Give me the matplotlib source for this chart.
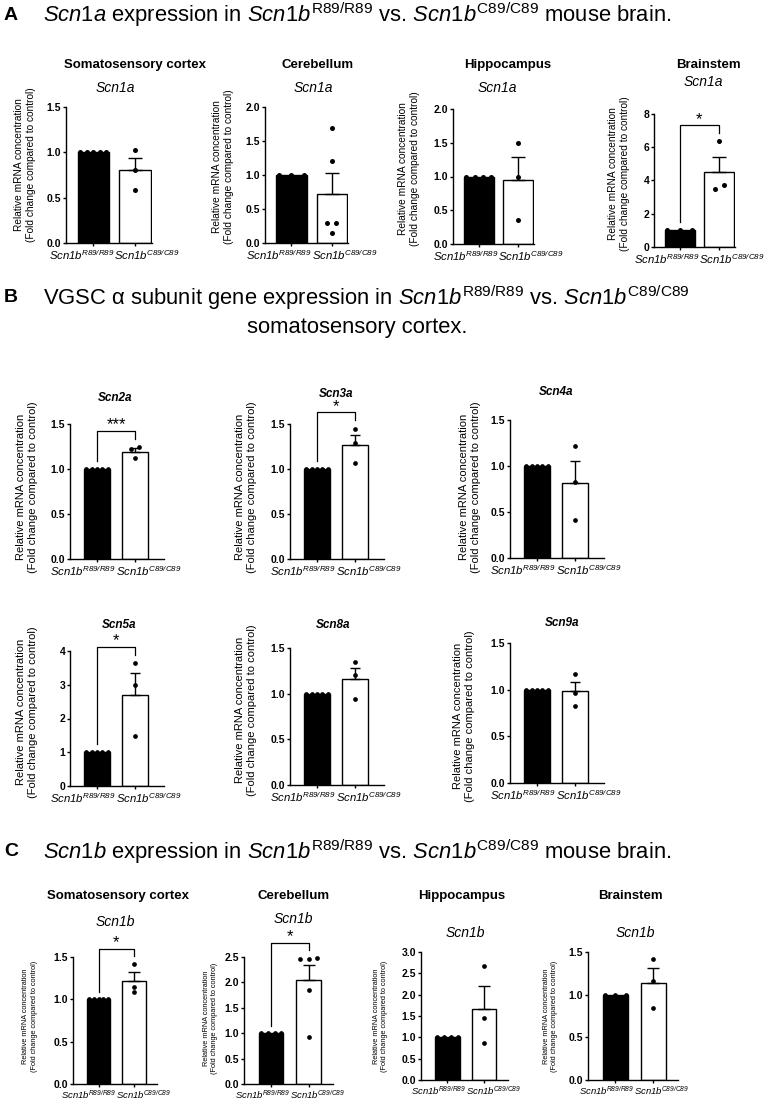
import matplotlib
matplotlib.use("Agg")
import matplotlib.pyplot as plt
import matplotlib.font_manager as fm
import numpy as np

plt.rcParams["font.family"] = ["Liberation Sans", "DejaVu Sans"]
plt.rcParams["mathtext.fontset"] = "custom"
plt.rcParams["mathtext.rm"] = "Liberation Sans"
plt.rcParams["mathtext.it"] = "Liberation Sans:italic"
plt.rcParams["mathtext.bf"] = "Liberation Sans:bold"

installed = {f.name for f in fm.fontManager.ttflist}
HAS_NARROW = "Liberation Sans Narrow" in installed
NARROW = "Liberation Sans Narrow" if HAS_NARROW else "Liberation Sans"

# ---- data ----
geno_base = "Scn1b"
geno_sup = ["R89/R89", "C89/C89"]
ylab_text = "Relative mRNA concentration\n(Fold change compared to control)"
regions = ["Somatosensory cortex", "Cerebellum", "Hippocampus", "Brainstem"]

# A: Scn1a in four regions
a_gene = "Scn1a"
a_ctrl = [[1, 1, 1, 1, 1], [1, 1, 1], [1, 1, 1, 1], [1, 1, 1]]
a_mut = [[1.03, 0.80, 0.59], [1.69, 1.20, 0.29, 0.29, 0.14], [1.50, 1.00, 0.36], [6.35, 3.70, 3.50]]
a_ymax = [1.5, 2.0, 2.0, 8]
a_ystep = [0.5, 0.5, 0.5, 2]
a_sig = ["", "", "", "*"]

# B: alpha subunits in somatosensory cortex
b_genes = ["Scn2a", "Scn3a", "Scn4a", "Scn5a", "Scn8a", "Scn9a"]
b_ctrl = [[1, 1, 1, 1, 1]] * 6
b_mut = [[1.24, 1.22, 1.12], [1.45, 1.29, 1.07], [1.22, 0.83, 0.41],
         [3.65, 2.98, 1.48], [1.35, 1.20, 0.94], [1.17, 0.96, 0.82]]
b_ymax = [1.5, 1.5, 1.5, 4, 1.5, 1.5]
b_ystep = [0.5, 0.5, 0.5, 1, 0.5, 0.5]
b_sig = ["***", "*", "", "*", "", ""]

# C: Scn1b in four regions
c_gene = "Scn1b"
c_ctrl = [[1, 1, 1, 1, 1], [1, 1, 1, 1], [1, 1, 1, 1], [1, 1, 1]]
c_mut = [[1.42, 1.15, 1.09], [2.48, 2.47, 2.46, 1.86, 0.93], [2.68, 1.46, 0.86], [1.42, 1.16, 0.845]]
c_ymax = [1.5, 2.5, 3.0, 1.5]
c_ystep = [0.5, 0.5, 0.5, 0.5]
c_sig = ["*", "*", "", ""]

title_a = r"$\mathit{Scn1a}$ expression in $\mathit{Scn1b}^{\mathrm{R89/R89}}$ vs. $\mathit{Scn1b}^{\mathrm{C89/C89}}$ mouse brain."
title_b1 = r"VGSC α subunit gene expression in $\mathit{Scn1b}^{\mathrm{R89/R89}}$ vs. $\mathit{Scn1b}^{\mathrm{C89/C89}}$"
title_b2 = "somatosensory cortex."
title_c = r"$\mathit{Scn1b}$ expression in $\mathit{Scn1b}^{\mathrm{R89/R89}}$ vs. $\mathit{Scn1b}^{\mathrm{C89/C89}}$ mouse brain."

# ---- layout (pixels, origin top left) ----
W, H = 778, 1109
A_BOX = [(66, 107, 152, 243), (265, 107, 348, 243), (453, 109, 534, 244), (654, 114, 735, 247)]
A_TITLE_XY = [(135, 65), (318, 65), (508, 65), (708, 65)]
A_GENE_XY = [(115, 88), (313, 88), (497, 88), (703, 82)]
A_YLAB_XY = [(25, 165), (223, 167), (409, 169), (619, 174)]

B_BOX = [(70, 424, 164, 559), (290, 424, 384, 559), (510, 420, 604, 558),
         (70, 651, 164, 786), (290, 648, 384, 785), (510, 643, 604, 783)]
B_TITLE_XY = [(115, 398), (336, 394), (556, 392), (119, 625), (333, 625), (562, 623)]
B_YLAB_XY = [(27, 487), (246, 487), (470, 487), (27, 712), (246, 710), (464, 716)]

C_BOX = [(73, 957, 157, 1084), (244, 957, 333, 1084), (421, 952, 508, 1080), (588, 952, 678, 1080)]
C_TITLE_XY = [(118, 896), (294, 896), (462, 896), (630, 896)]
C_GENE_XY = [(115, 922), (293, 919), (465, 933), (635, 933)]
C_YLAB_XY = [(30, 1016), (210, 1018), (381, 1016), (551, 1016)]

ST_A = dict(lw=1.0, ms=3.6, cap=5.0, tick_fs=7.5, xt_fs=8.2, yl_fs=7.3, xlim=(-0.65, 1.4), width=0.75,
            font="Liberation Sans", star_fs=12)
ST_B = dict(lw=1.0, ms=3.4, cap=3.6, tick_fs=7.5, xt_fs=9.5 if HAS_NARROW else 8.2, yl_fs=8.0,
            xlim=(-0.71, 1.76), width=0.68, font=NARROW, star_fs=12)
ST_C = dict(lw=1.0, ms=3.4, cap=4.2, tick_fs=7.5, xt_fs=6.8, yl_fs=5.3, xlim=(-0.72, 1.65), width=0.66,
            font="Liberation Sans", star_fs=12)

fig = plt.figure(figsize=(W / 100, H / 100), dpi=100)


def fx(x):
    return x / W


def fy(y):
    return 1 - y / H


def spread(vals, ppu, width, thr=5.0, step=0.22):
    # beeswarm-like horizontal offsets for overlapping points
    vals = np.asarray(vals, float)
    if len(vals) > 1 and np.all(vals == vals[0]):
        return np.linspace(-0.42 * width, 0.42 * width, len(vals))
    offs = np.zeros(len(vals))
    order = np.argsort(vals)
    groups = [[order[0]]]
    for i in order[1:]:
        if (vals[i] - vals[groups[-1][-1]]) * ppu < thr:
            groups[-1].append(i)
        else:
            groups.append([i])
    for g in groups:
        for j, idx in enumerate(g):
            offs[idx] = (j - (len(g) - 1) / 2) * step
    return offs


def draw(box, ctrl, mut, ymax, ystep, sig, ylab_xy, st):
    l, t, r, b = box
    ax = fig.add_axes([fx(l), fy(b), (r - l) / W, (b - t) / H])
    means = [np.mean(ctrl), np.mean(mut)]
    sem = np.std(mut, ddof=1) / np.sqrt(len(mut))
    ax.bar([0, 1], means, width=st["width"], color=["black", "white"], edgecolor="black",
           linewidth=st["lw"], zorder=2)
    ax.errorbar(1, means[1], yerr=[[0], [sem]], fmt="none", ecolor="black", elinewidth=st["lw"],
                capsize=st["cap"], capthick=st["lw"], zorder=3)
    ppu = (b - t) / ymax
    for x, vals in [(0, ctrl), (1, mut)]:
        offs = spread(vals, ppu, st["width"])
        ax.plot(x + offs, vals, "o", color="black", ms=st["ms"], mec="none", zorder=4, clip_on=False)

    ax.set_xlim(*st["xlim"])
    ax.set_ylim(0, ymax)
    for s in ["top", "right"]:
        ax.spines[s].set_visible(False)
    for s in ["left", "bottom"]:
        ax.spines[s].set_linewidth(st["lw"])
    ticks = np.arange(0, ymax + ystep / 2, ystep)
    ax.set_yticks(ticks)
    fmt = "%d" if float(ystep).is_integer() else "%.1f"
    ax.set_yticklabels([fmt % v for v in ticks], fontsize=st["tick_fs"], fontweight="bold", family=st["font"])
    ax.set_xticks([0, 1])
    ax.set_xticklabels(["", ""])
    ax.tick_params(length=2.5, width=st["lw"], pad=1)

    # genotype labels meet at the midpoint between the two bars
    labels = [r"$\mathdefault{%s}^{\mathdefault{%s}}$" % (geno_base, s) for s in geno_sup]
    for lab, ha in zip(labels, ["right", "left"]):
        ax.annotate(lab, xy=(0.5, 0), xycoords=("data", "axes fraction"), xytext=(0, -3.5),
                    textcoords="offset points", ha=ha, va="top", fontsize=st["xt_fs"],
                    family=st["font"], style="italic")

    fig.text(fx(ylab_xy[0]), fy(ylab_xy[1]), ylab_text, rotation=90, ha="center", va="center",
             multialignment="center", fontsize=st["yl_fs"])

    if sig:
        rb = max(max(mut), means[1] + sem) + 0.06 * ymax
        top = rb + 0.06 * ymax
        lb = max(ctrl) + 0.06 * ymax
        ax.plot([0, 0, 1, 1], [lb, top, top, rb], color="black", lw=0.9, clip_on=False)
        ax.annotate(sig, xy=(0.5, top), xytext=(0, -1), textcoords="offset points", ha="center",
                    va="bottom", fontsize=st["star_fs"], annotation_clip=False)
    return ax


# panel letters and titles
for letter, y in [("A", 15), ("B", 298), ("C", 852)]:
    fig.text(fx(4), fy(y), letter, fontsize=14, fontweight="bold", ha="left", va="center")
fig.text(fx(43), fy(15), title_a, fontsize=15.8, ha="left", va="center")
fig.text(fx(43), fy(298), title_b1, fontsize=15.8, ha="left", va="center")
fig.text(fx(357), fy(328), title_b2, fontsize=15.8, ha="center", va="center")
fig.text(fx(43), fy(852), title_c, fontsize=15.8, ha="left", va="center")

# A
for i in range(4):
    draw(A_BOX[i], a_ctrl[i], a_mut[i], a_ymax[i], a_ystep[i], a_sig[i], A_YLAB_XY[i], ST_A)
    fig.text(fx(A_TITLE_XY[i][0]), fy(A_TITLE_XY[i][1]), regions[i], fontsize=9.5, fontweight="bold",
             ha="center", va="center")
    fig.text(fx(A_GENE_XY[i][0]), fy(A_GENE_XY[i][1]), a_gene, fontsize=10, style="italic",
             ha="center", va="center")

# B
for i in range(6):
    draw(B_BOX[i], b_ctrl[i], b_mut[i], b_ymax[i], b_ystep[i], b_sig[i], B_YLAB_XY[i], ST_B)
    fig.text(fx(B_TITLE_XY[i][0]), fy(B_TITLE_XY[i][1]), b_genes[i],
             fontsize=9.5 if HAS_NARROW else 8.5, fontweight="bold",
             style="italic", family=NARROW, ha="center", va="center")

# C
for i in range(4):
    draw(C_BOX[i], c_ctrl[i], c_mut[i], c_ymax[i], c_ystep[i], c_sig[i], C_YLAB_XY[i], ST_C)
    fig.text(fx(C_TITLE_XY[i][0]), fy(C_TITLE_XY[i][1]), regions[i], fontsize=9.5, fontweight="bold",
             ha="center", va="center")
    fig.text(fx(C_GENE_XY[i][0]), fy(C_GENE_XY[i][1]), c_gene, fontsize=10, style="italic",
             ha="center", va="center")

fig.savefig("out.png", dpi=100)
